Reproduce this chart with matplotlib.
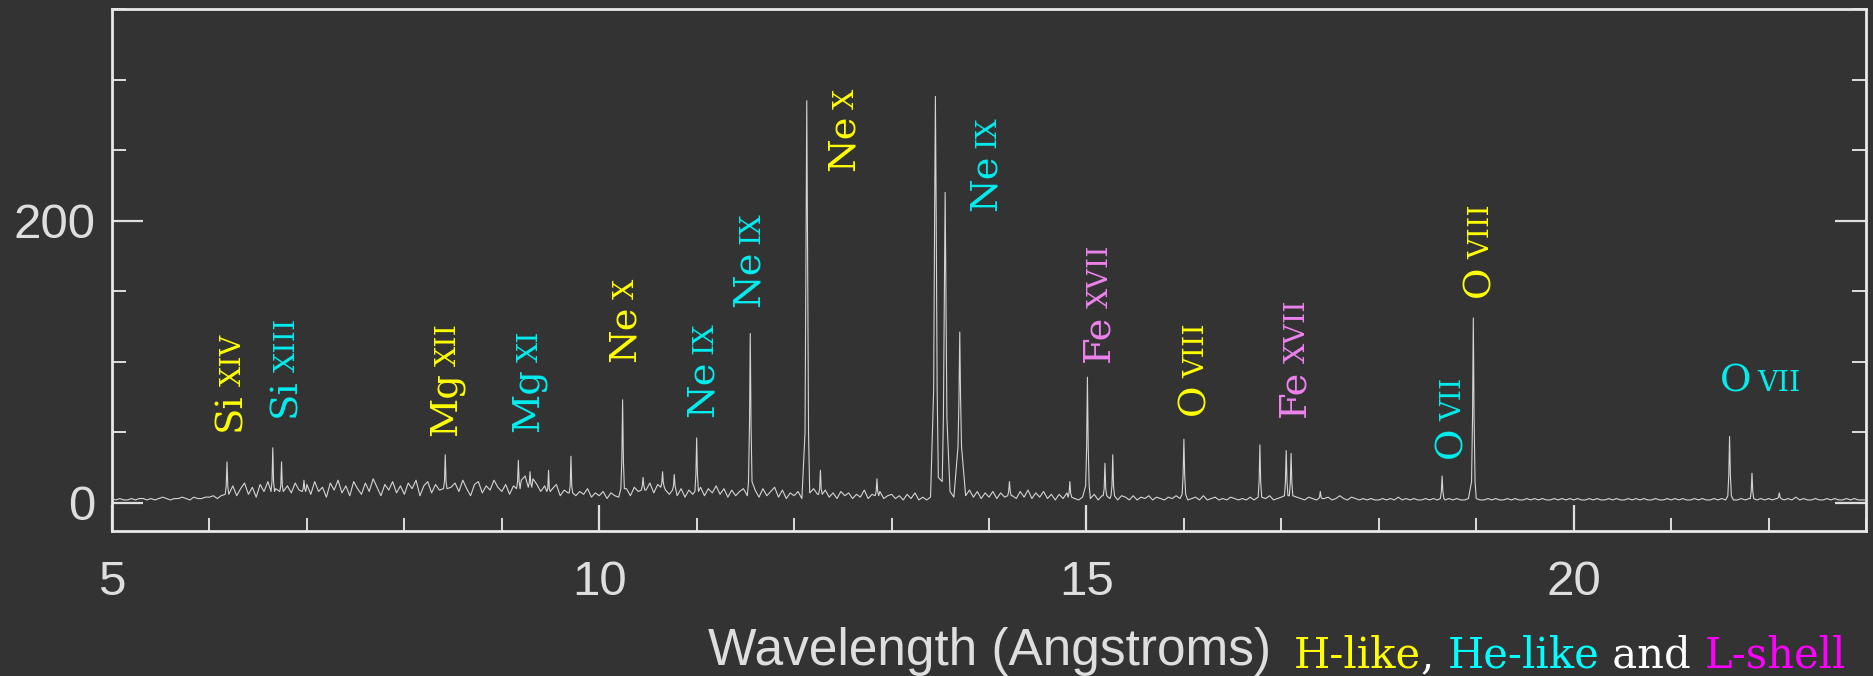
import numpy as np
import matplotlib
matplotlib.use("Agg")
import matplotlib.pyplot as plt
from matplotlib.ticker import MultipleLocator, FixedLocator

# ---------------------------------------------------------------------------
# Spectrum: continuum counts on a regular wavelength grid (bins of 0.04 A)
# ---------------------------------------------------------------------------
cont_start = 5.0
cont_step = 0.04
cont_counts = [
    # 5 A
    3, 2, 3, 2, 2, 3, 2, 3, 3, 2, 3, 2, 3, 4, 3, 2, 3, 3, 4, 3, 2, 4, 3, 3, 4,
    # 6 A
    4, 5, 3, 5, 6, 4, 12, 5, 10, 14, 6, 11, 4, 13, 8, 15, 6, 10, 16, 5, 12, 7, 14, 9, 11,
    # 7 A
    13, 6, 15, 8, 11, 4, 14, 9, 16, 7, 12, 5, 15, 10, 6, 14, 8, 17, 11, 5, 13, 9, 15, 7, 12,
    # 8 A
    6, 14, 10, 16, 5, 12, 15, 7, 13, 9, 17, 6, 11, 14, 8, 16, 10, 5, 13, 15, 7, 12, 9, 16, 11,
    # 9 A
    8, 13, 6, 12, 9, 16, 19, 11, 17, 13, 8, 12, 6, 10, 13, 5, 9, 7, 11, 5, 8, 6, 10, 4, 7,
    # 10 A
    5, 8, 3, 7, 5, 4, 6, 10, 5, 11, 8, 15, 9, 14, 7, 13, 18, 9, 6, 13, 5, 10, 4, 9, 6,
    # 11 A
    7, 11, 5, 10, 7, 12, 6, 10, 4, 9, 5, 8, 10, 5, 6, 9, 4, 10, 5, 8, 11, 4, 9, 3, 7,
    # 12 A
    5, 8, 3, 6, 7, 10, 6, 8, 9, 4, 7, 3, 8, 5, 7, 3, 6, 4, 9, 3, 6, 5, 8, 3, 5,
    # 13 A
    6, 3, 5, 2, 6, 3, 7, 2, 4, 2, 4, 3, 18, 15, 12, 8, 4, 3, 4, 5, 9, 4, 8, 3, 7,
    # 14 A
    4, 8, 3, 7, 4, 10, 5, 3, 8, 4, 9, 3, 7, 4, 8, 3, 6, 2, 6, 3, 7, 10, 3, 2, 4,
    # 15 A
    5, 3, 6, 2, 5, 8, 3, 6, 2, 5, 4, 2, 5, 2, 4, 3, 5, 2, 4, 3, 2, 4, 3, 5, 3,
    # 16 A
    4, 2, 3, 4, 2, 5, 2, 3, 4, 2, 3, 2, 4, 3, 2, 3, 2, 4, 2, 3, 2, 3, 5, 2, 3,
    # 17 A
    4, 3, 5, 3, 4, 3, 2, 4, 3, 2, 6, 3, 4, 2, 3, 5, 3, 2, 4, 3, 2, 3, 2, 3, 2,
    # 18 A
    2, 3, 2, 3, 2, 4, 2, 3, 2, 3, 2, 2, 3, 2, 3, 2, 4, 2, 3, 2, 3, 2, 2, 3, 2,
    # 19 A
    3, 2, 2, 3, 2, 3, 2, 2, 3, 2, 3, 2, 2, 3, 2, 3, 2, 3, 2, 2, 3, 2, 3, 2, 3,
    # 20 A
    2, 3, 2, 2, 3, 2, 3, 2, 2, 3, 2, 3, 2, 2, 3, 2, 3, 2, 3, 2, 2, 3, 2, 2, 3,
    # 21 A
    2, 3, 2, 3, 2, 2, 3, 2, 3, 2, 2, 3, 2, 3, 2, 3, 2, 2, 3, 2, 3, 2, 2, 3, 2,
    # 22 A
    3, 2, 3, 2, 2, 3, 2, 4, 2, 3, 2, 2, 3, 2, 2, 3, 2, 3, 2, 2, 3, 2, 3, 2, 2,
    # 23 A
    2,
]

# Emission lines: centre (A), peak counts, counts at +/-0.008 A and +/-0.018 A
line_wave = [6.18, 6.65, 6.74, 6.97, 8.42, 9.17, 9.29, 9.48, 9.71,
             10.24, 10.45, 10.65, 10.77, 11.00, 11.55, 12.13, 12.27, 12.85,
             13.45, 13.55, 13.70, 14.21, 14.83, 15.01, 15.19, 15.27,
             16.00, 16.78, 17.05, 17.10, 17.40, 18.65, 18.97,
             21.60, 21.83, 22.11]
line_peak = [29, 39, 29, 16, 34, 30, 22, 23, 33,
             73, 18, 22, 20, 46, 120, 285, 23, 17,
             288, 220, 121, 15, 15, 89, 28, 34,
             45, 41, 37, 35, 8, 19, 131,
             47, 21, 7]
line_inner = [12, 15, 12, 10, 15, 15, 14, 10, 12,
              30, 12, 14, 12, 20, 55, 185, 10, 8,
              205, 150, 75, 8, 7, 40, 10, 12,
              20, 15, 15, 14, 4, 8, 60,
              20, 8, 4]
line_outer = [6, 8, 8, 8, 10, 10, 11, 8, 7,
              10, 9, 11, 9, 8, 15, 50, 6, 5,
              80, 60, 40, 5, 4, 12, 5, 5,
              6, 4, 5, 5, 3, 3, 15,
              5, 3, 3]

# Ion labels: element, ionisation stage, anchor (A, counts), line family, rotation
label_elem = ["Si", "Si", "Mg", "Mg", "Ne", "Ne", "Ne", "Ne", "Ne",
              "Fe", "O", "Fe", "O", "O", "O"]
label_ion = ["XIV", "XIII", "XII", "XI", "X", "IX", "IX", "X", "IX",
             "XVII", "VIII", "XVII", "VII", "VIII", "VII"]
label_x = [6.32, 6.88, 8.53, 9.37, 10.36, 11.165, 11.64, 12.615, 14.07,
           15.22, 16.21, 17.24, 18.845, 19.13, 21.50]
label_y = [51, 61, 47, 50, 100, 61, 139, 235, 207,
           100, 62, 61, 31.5, 146, 79]
label_kind = ["H", "He", "H", "He", "H", "He", "He", "H", "He",
              "L", "H", "L", "He", "H", "He"]
label_rot = [90] * 14 + [0]

x_ticks = [5, 10, 15, 20]
y_ticks = [0, 200]

# ---------------------------------------------------------------------------
BG = "#333333"
FG = "#dedede"
kind_color = {"H": "#ffff00", "He": "#00eeee", "L": "#ee82ee"}

W, H, DPI = 1873, 676, 100
fig = plt.figure(figsize=(W / DPI, H / DPI), dpi=DPI, facecolor=BG)
ax = fig.add_axes([112 / W, 1 - 531 / H, (1866 - 112) / W, (531 - 9) / H])
ax.set_facecolor(BG)

# assemble the spectrum from continuum bins and line profiles
cont_wave = cont_start + cont_step * np.arange(len(cont_counts))
cont_vals = np.asarray(cont_counts, dtype=float)
lw_arr = np.asarray(line_wave)
dist = np.min(np.abs(cont_wave[:, None] - lw_arr[None, :]), axis=1)
keep = dist > 0.022
wave = np.concatenate([cont_wave[keep], lw_arr,
                       lw_arr - 0.008, lw_arr + 0.008,
                       lw_arr - 0.018, lw_arr + 0.018])
counts = np.concatenate([cont_vals[keep], line_peak,
                         line_inner, line_inner,
                         line_outer, line_outer])
order = np.argsort(wave)
ax.plot(wave[order], counts[order], color="#d4d4d4", lw=0.8, zorder=3)

ax.set_xlim(5, 23)
ax.set_ylim(-20, 350)

for s in ax.spines.values():
    s.set_color("#e8e8e8")
    s.set_linewidth(2.0)

ax.xaxis.set_major_locator(FixedLocator(x_ticks))
ax.xaxis.set_minor_locator(MultipleLocator(1))
ax.yaxis.set_major_locator(FixedLocator(y_ticks))
ax.yaxis.set_minor_locator(MultipleLocator(50))

tick_font = "Liberation Sans"
ax.tick_params(axis="x", which="major", direction="in", length=19, width=1.6,
               color=FG, labelcolor=FG, labelsize=35.5, pad=21,
               bottom=True, top=False)
ax.tick_params(axis="x", which="minor", direction="in", length=9.5, width=1.4,
               color=FG, bottom=True, top=False)
ax.tick_params(axis="y", which="major", direction="in", length=22.5, width=1.6,
               color=FG, labelcolor=FG, labelsize=35.5, pad=12,
               left=True, right=True)
ax.tick_params(axis="y", which="minor", direction="in", length=10, width=1.4,
               color=FG, left=True, right=True)
for lab in ax.get_xticklabels() + ax.get_yticklabels():
    lab.set_family(tick_font)

# axis title
fig.text((112 + 1866) / 2 / W, 1 - 665 / H, "Wavelength (Angstroms)",
         ha="center", va="baseline", color=FG, fontsize=37, family=tick_font)

# ion labels: element symbol followed by a smaller ionisation stage
renderer = fig.canvas.get_renderer()
serif = "DejaVu Serif"
elem_size, ion_size, gap_px = 27.7, 20.5, 6
for el, ion, x, y, kind, rot in zip(label_elem, label_ion, label_x, label_y,
                                    label_kind, label_rot):
    c = kind_color[kind]
    t = ax.text(x, y, el, rotation=rot, rotation_mode="anchor", ha="left",
                va="baseline", fontsize=elem_size, family=serif, color=c)
    bb = t.get_window_extent(renderer)
    length = (bb.height if rot == 90 else bb.width) + gap_px
    off = (0, length * 72 / DPI) if rot == 90 else (length * 72 / DPI, 0)
    ax.annotate(ion, xy=(x, y), xytext=off, textcoords="offset points",
                rotation=rot, rotation_mode="anchor", ha="left",
                va="baseline", fontsize=ion_size, family=serif, color=c)

# colour key along the bottom
key_parts = ["H-like", ", ", "He-like", " and ", "L-shell"]
key_colors = ["#ffff00", "#ffffff", "#00ffff", "#ffffff", "#ff00ff"]
xpos = 1294.0
for txt, c in zip(key_parts, key_colors):
    t = fig.text(xpos / W, 1 - 668 / H, txt, ha="left", va="baseline",
                 color=c, fontsize=30, family=serif)
    xpos += t.get_window_extent(renderer).width

fig.savefig("out.png", dpi=DPI, facecolor=BG)
